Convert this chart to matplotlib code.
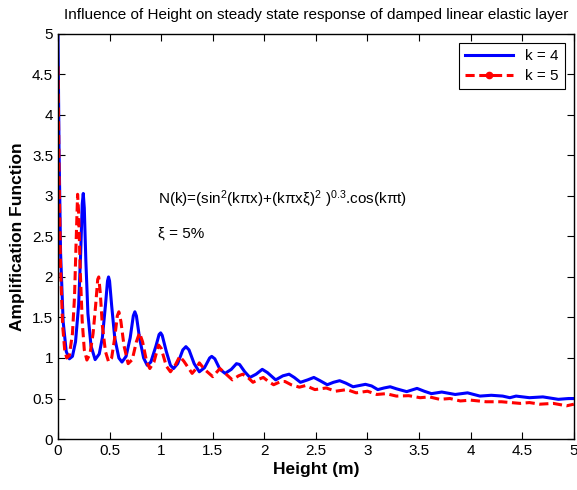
import matplotlib
matplotlib.use("Agg")
import matplotlib.pyplot as plt
from matplotlib.lines import Line2D
from matplotlib.ticker import FormatStrFormatter

plt.rcParams['font.family'] = ['Liberation Sans', 'DejaVu Sans']
plt.rcParams['mathtext.fontset'] = 'custom'
plt.rcParams['mathtext.rm'] = 'Liberation Sans'
plt.rcParams['mathtext.it'] = 'Liberation Sans:italic'

# Werte
height_k4 = [0.000, 0.010, 0.025, 0.050, 0.080, 0.110, 0.140, 0.170, 0.200, 0.220,
             0.235, 0.245, 0.255, 0.270, 0.290, 0.320, 0.360, 0.400, 0.430, 0.460,
             0.480, 0.490, 0.500, 0.520, 0.550, 0.590, 0.620, 0.660, 0.700, 0.730,
             0.745, 0.760, 0.790, 0.830, 0.865, 0.900, 0.950, 0.980, 0.995, 1.010,
             1.050, 1.090, 1.120, 1.160, 1.210, 1.240, 1.270, 1.320, 1.370, 1.420,
             1.470, 1.490, 1.520, 1.570, 1.620, 1.680, 1.730, 1.760, 1.810, 1.860,
             1.920, 1.980, 2.030, 2.110, 2.180, 2.240, 2.290, 2.350, 2.420, 2.480,
             2.540, 2.610, 2.670, 2.730, 2.790, 2.860, 2.920, 2.980, 3.040, 3.100,
             3.160, 3.220, 3.280, 3.380, 3.480, 3.550, 3.620, 3.720, 3.850, 3.970,
             4.090, 4.200, 4.310, 4.380, 4.440, 4.570, 4.700, 4.850, 4.950, 5.000]
amp_k4 = [5.00, 3.60, 2.30, 1.45, 1.08, 0.99, 1.02, 1.20, 1.65, 2.30,
          2.90, 3.03, 2.85, 2.20, 1.55, 1.15, 0.98, 1.05, 1.25, 1.65,
          1.95, 2.00, 1.95, 1.65, 1.25, 1.00, 0.95, 1.02, 1.25, 1.52,
          1.57, 1.52, 1.25, 1.00, 0.91, 0.95, 1.15, 1.29, 1.31, 1.28,
          1.08, 0.91, 0.87, 0.93, 1.10, 1.14, 1.10, 0.93, 0.83, 0.88,
          1.00, 1.02, 0.99, 0.86, 0.81, 0.86, 0.93, 0.92, 0.83, 0.76,
          0.80, 0.86, 0.82, 0.73, 0.78, 0.80, 0.76, 0.70, 0.73, 0.76,
          0.72, 0.67, 0.70, 0.72, 0.69, 0.645, 0.66, 0.675, 0.655, 0.61,
          0.63, 0.645, 0.62, 0.585, 0.625, 0.59, 0.56, 0.58, 0.55, 0.57,
          0.53, 0.54, 0.53, 0.51, 0.53, 0.51, 0.52, 0.49, 0.50, 0.50]

height_k5 = [0.000, 0.010, 0.025, 0.045, 0.065, 0.085, 0.110, 0.140, 0.160, 0.175,
             0.190, 0.200, 0.215, 0.235, 0.255, 0.280, 0.310, 0.340, 0.365, 0.385,
             0.395, 0.410, 0.430, 0.460, 0.490, 0.520, 0.550, 0.575, 0.590, 0.610,
             0.640, 0.680, 0.720, 0.760, 0.790, 0.820, 0.860, 0.890, 0.930, 0.975,
             1.000, 1.050, 1.090, 1.140, 1.180, 1.220, 1.300, 1.340, 1.370, 1.420,
             1.500, 1.570, 1.630, 1.690, 1.750, 1.790, 1.840, 1.890, 1.950, 1.990,
             2.040, 2.090, 2.160, 2.200, 2.260, 2.340, 2.400, 2.490, 2.600, 2.690,
             2.800, 2.890, 3.000, 3.090, 3.180, 3.280, 3.400, 3.510, 3.600, 3.700,
             3.800, 3.900, 4.000, 4.150, 4.300, 4.480, 4.570, 4.670, 4.800, 4.930,
             5.000]
amp_k5 = [4.60, 3.30, 2.10, 1.40, 1.10, 1.00, 1.03, 1.30, 1.75, 2.40,
          3.02, 2.80, 2.10, 1.45, 1.10, 0.975, 1.05, 1.30, 1.65, 1.97,
          2.00, 1.80, 1.40, 1.08, 0.955, 1.00, 1.25, 1.52, 1.57, 1.45,
          1.15, 0.93, 0.98, 1.20, 1.31, 1.20, 0.95, 0.87, 0.95, 1.16,
          1.12, 0.90, 0.83, 0.92, 1.02, 0.96, 0.81, 0.87, 0.94, 0.86,
          0.77, 0.87, 0.80, 0.73, 0.78, 0.80, 0.76, 0.70, 0.74, 0.76,
          0.71, 0.67, 0.71, 0.71, 0.67, 0.64, 0.66, 0.61, 0.63, 0.59,
          0.61, 0.57, 0.59, 0.55, 0.56, 0.53, 0.535, 0.51, 0.52, 0.49,
          0.50, 0.47, 0.48, 0.46, 0.46, 0.44, 0.45, 0.43, 0.44, 0.41,
          0.43]

fig = plt.figure(figsize=(5.77, 4.90), dpi=100)
ax = fig.add_axes([0.1005, 0.104, 0.894, 0.827])

ax.plot(height_k4, amp_k4, color='#0000ff', lw=2.2)
ax.plot(height_k5, amp_k5, color='#ff0000', lw=2.2, ls=(0, (3, 1.5)))

ax.set_xlim(0, 5)
ax.set_ylim(0, 5)
ax.set_xticks([0, 0.5, 1, 1.5, 2, 2.5, 3, 3.5, 4, 4.5, 5])
ax.set_yticks([0, 0.5, 1, 1.5, 2, 2.5, 3, 3.5, 4, 4.5, 5])
ax.xaxis.set_major_formatter(FormatStrFormatter('%g'))
ax.yaxis.set_major_formatter(FormatStrFormatter('%g'))
ax.tick_params(direction='in', top=True, right=True, labelsize=11, length=5, width=0.8)
for s in ax.spines.values():
    s.set_linewidth(1.0)

ax.set_xlabel('Height (m)', fontsize=12.5, fontweight='bold', labelpad=3)
ax.set_ylabel('Amplification Function', fontsize=12.5, fontweight='bold', labelpad=5)
ax.set_title('Influence of Height on steady state response of damped linear elastic layer',
             fontsize=11, pad=11)

ax.text(0.97, 2.96, 'N(k)=(sin$^2$(kπx)+(kπxξ)$^2$ )$^{0.3}$.cos(kπt)',
        fontsize=11, va='center')
ax.text(0.97, 2.54, 'ξ = 5%', fontsize=11, va='center')

handles = [Line2D([], [], color='#0000ff', lw=2.2),
           Line2D([], [], color='#ff0000', lw=2.2, ls=(0, (3, 1.5)), marker='.', markersize=9)]
leg = ax.legend(handles, ['k = 4', 'k = 5'], loc='upper right', fontsize=11,
                fancybox=False, edgecolor='black', framealpha=1, handlelength=3.1,
                borderaxespad=0.6, labelspacing=0.4)
leg.get_frame().set_linewidth(0.8)

fig.savefig('out.png', dpi=100)
plt.close()
